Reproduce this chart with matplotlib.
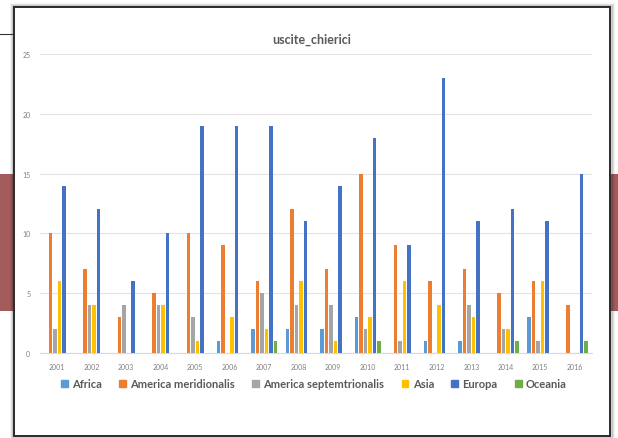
import numpy as np
import matplotlib.pyplot as plt
from matplotlib.patches import Rectangle
from matplotlib.lines import Line2D

plt.rcParams['font.family'] = ['Lato', 'DejaVu Sans']

years = [str(y) for y in range(2001, 2017)]
africa = [0, 0, 0, 0, 0, 1, 2, 2, 2, 3, 0, 1, 1, 0, 3, 0]
america_merid = [10, 7, 3, 5, 10, 9, 6, 12, 7, 15, 9, 6, 7, 5, 6, 4]
america_sept = [2, 4, 4, 4, 3, 0, 5, 4, 4, 2, 1, 0, 4, 2, 1, 0]
asia = [6, 4, 0, 4, 1, 3, 2, 6, 1, 3, 6, 4, 3, 2, 6, 0]
europa = [14, 12, 6, 10, 19, 19, 19, 11, 14, 18, 9, 23, 11, 12, 11, 15]
oceania = [0, 0, 0, 0, 0, 0, 1, 0, 0, 1, 0, 0, 0, 1, 0, 1]

series = [
    ('Africa', africa, '#5B9BD5'),
    ('America meridionalis', america_merid, '#ED7D31'),
    ('America septemtrionalis', america_sept, '#A5A5A5'),
    ('Asia', asia, '#FFC000'),
    ('Europa', europa, '#4472C4'),
    ('Oceania', oceania, '#70AD47'),
]

W, H = 618, 439
fig = plt.figure(figsize=(W / 100, H / 100), dpi=100)
fig.patch.set_facecolor('white')

def px(x0, y0, x1, y1):
    # pixel box (top-left origin) -> figure fraction rect
    return (x0 / W, 1 - y1 / H, (x1 - x0) / W, (y1 - y0) / H)

# background decoration behind the screenshot frame
for box in [(0, 175, 14, 312), (610, 175, 618, 312)]:
    x, y, w, h = px(*box)
    fig.add_artist(Rectangle((x, y), w, h, transform=fig.transFigure,
                             facecolor='#A35C5C', edgecolor='none', zorder=0))
fig.add_artist(Line2D([0, 14 / W], [1 - 35 / H, 1 - 35 / H],
                      transform=fig.transFigure, color='#333333', lw=0.8))

# soft shadow + chart frame
for i, a in enumerate([0.05, 0.08, 0.12]):
    d = 3 - i
    x, y, w, h = px(14 - d, 8 - d, 610 + d, 437 + d)
    fig.add_artist(Rectangle((x, y), w, h, transform=fig.transFigure,
                             facecolor='none', edgecolor='black', alpha=a,
                             lw=2, zorder=1))
x, y, w, h = px(14, 8, 610, 437)
fig.add_artist(Rectangle((x, y), w, h, transform=fig.transFigure,
                         facecolor='white', edgecolor='#2a2a2a', lw=1.4, zorder=1))

ax = fig.add_axes(px(40, 55, 592, 354))
ax.set_zorder(2)
ax.patch.set_alpha(0)

xs = np.arange(len(years))
step = 0.133
width = 0.1
for i, (name, vals, color) in enumerate(series):
    ax.bar(xs + (i - 2.5) * step, vals, width=width, color=color, label=name,
           zorder=3)

ax.set_xlim(-0.5, len(years) - 0.5)
ax.set_ylim(0, 25)
ax.set_yticks(range(0, 26, 5))
ax.set_xticks(xs)
ax.set_xticklabels(years)
ax.grid(axis='y', color='#E3E3E3', lw=0.8, zorder=0)
ax.tick_params(length=0, labelsize=5, labelcolor='#7F7F7F', pad=7)
for s in ax.spines.values():
    s.set_visible(False)
ax.spines['bottom'].set_visible(True)
ax.spines['bottom'].set_color('#D9D9D9')
ax.spines['bottom'].set_linewidth(0.8)

fig.text(312 / W, 1 - 40 / H, 'uscite_chierici', ha='center', va='center',
         fontsize=9, color='#595959', fontweight='bold')

handles = [Rectangle((0, 0), 1, 1, color=c) for _, _, c in series]
fig.legend(handles, [n for n, _, _ in series], loc='center',
           bbox_to_anchor=(314 / W, 1 - 385 / H), ncol=6, frameon=False,
           handlelength=0.6, handleheight=0.6, handletextpad=0.4,
           columnspacing=1.55, labelcolor='#595959',
           prop={'weight': 'bold', 'size': 8})

fig.savefig('out.png', dpi=100)
